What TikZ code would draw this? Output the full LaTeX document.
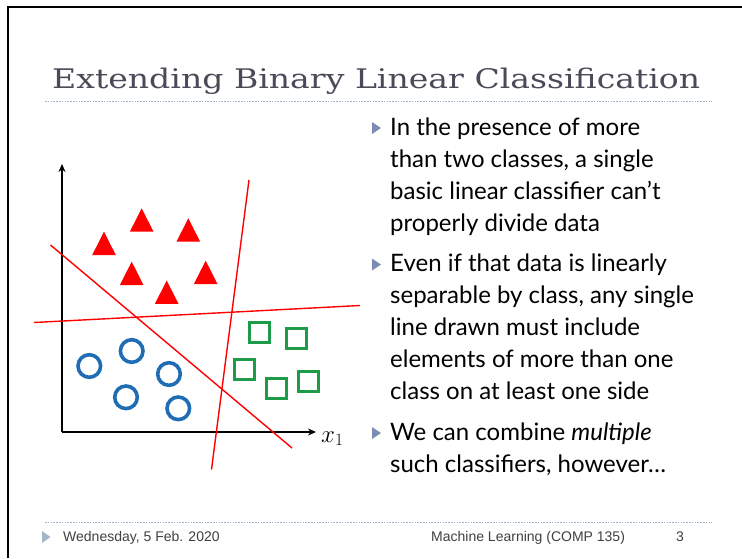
\documentclass[tikz,border=0pt]{standalone}
\usepackage{fontspec}
\usepackage{graphicx}
\setmainfont{Liberation Serif}
\newfontfamily\titlefont{DejaVu Serif}
\newfontfamily\bodyfont{Lato}
\newfontfamily\footfont{Liberation Sans}
\usetikzlibrary{arrows.meta}
\definecolor{titlegray}{HTML}{4A4A58}
\definecolor{rulegray}{HTML}{9FB3C8}
\definecolor{bulletblue}{HTML}{7B8DB0}
\definecolor{footblue}{HTML}{A3B6CC}
\definecolor{circblue}{HTML}{1F6DB4}
\definecolor{sqgreen}{HTML}{1E9B48}
\definecolor{foottext}{HTML}{404040}
\tikzset{
  frame/.style={line width=2.6pt, black},
  sep/.style={rulegray, line width=0.8pt, dash pattern=on 1.6pt off 1.2pt},
  axis/.style={line width=1.8pt, -{Stealth[length=8pt,width=7pt]}},
  divider/.style={red, line width=1.4pt},
  tri/.style={fill=red, draw=none},
  circ/.style={draw=circblue, line width=3.6pt},
  sq/.style={draw=sqgreen, line width=3pt},
  bodyline/.style={anchor=base west, inner sep=0pt, font=\bodyfont\fontsize{24}{28}\selectfont, text=black},
  footline/.style={anchor=base west, inner sep=0pt, font=\footfont\fontsize{14}{16}\selectfont, text=foottext},
  bullet/.style={fill=bulletblue, draw=none},
}
\begin{document}
\begin{tikzpicture}[x=1pt,y=-1pt]
\useasboundingbox (0,0) rectangle (742,558);
\fill[white] (0,0) rectangle (742,558);

% slide frame (top and left edges)
\draw[frame] (8,558) -- (8,7) -- (742,7);

% title and separator
\node[anchor=base west, inner sep=0pt, text=titlegray,
      font=\titlefont\fontsize{27}{30}\selectfont] (title) at (52,88)
      {\resizebox{648pt}{20.5pt}{Extending Binary Linear Classification}};
\draw[sep] (45,101) -- (712,101);

% axes
\coordinate (origin) at (62,432);
\coordinate (ytip) at (62,164);
\coordinate (xtip) at (316,432);
\draw[axis] (origin) -- (ytip);
\draw[axis] (origin) -- (xtip);
\node[anchor=base west, inner sep=0pt, font=\fontsize{25}{27}\selectfont] (xlabel) at (321,442) {$x_1$};

% three linear separators
\coordinate (a1) at (50.5,245);
\coordinate (a2) at (292,448);
\coordinate (b1) at (34,322.5);
\coordinate (b2) at (360,305.5);
\coordinate (c1) at (249,180);
\coordinate (c2) at (211.5,469.5);
\draw[divider] (a1) -- (a2);
\draw[divider] (b1) -- (b2);
\draw[divider] (c1) -- (c2);

% class 1: triangles
\foreach \x/\y [count=\i] in {141.7/208.3, 188.3/218.3, 104/231.7, 131.7/261.7, 205.7/260.7, 166.7/280.5}
  \fill[tri] (\x,\y) -- ++(-11.8,23.3) -- ++(23.6,0) -- cycle;

% class 2: circles
\foreach \x/\y [count=\i] in {89.3/366, 131.7/351, 169/374, 126/397.3, 178.3/408.3}
  \draw[circ] (\x,\y) circle (11.3pt);

% class 3: squares
\foreach \x/\y [count=\i] in {259/332.3, 296.7/338.3, 244/369, 276.7/388.3, 308.3/381}
  \draw[sq] (\x-10,\y-10) rectangle (\x+10,\y+10);

% bullet markers
\foreach \y in {128, 264.5, 433}
  \fill[bullet] (372,\y-6) -- (381,\y) -- (372,\y+6) -- cycle;

% bullet text
\node[bodyline] (l1) at (390,135) {In the presence of more};
\node[bodyline] (l2) at (390,167) {than two classes, a single};
\node[bodyline] (l3) at (390,199) {basic linear classifier can’t};
\node[bodyline] (l4) at (390,231) {properly divide data};
\node[bodyline] (l5) at (390,271.5) {Even if that data is linearly};
\node[bodyline] (l6) at (390,303.5) {separable by class, any single};
\node[bodyline] (l7) at (390,335.5) {line drawn must include};
\node[bodyline] (l8) at (390,367.5) {elements of more than one};
\node[bodyline] (l9) at (390,399.5) {class on at least one side};
\node[bodyline] (l10) at (390,440) {We can combine \textit{multiple}};
\node[bodyline] (l11) at (390,472) {such classifiers, however…};

% footer
\draw[sep] (45,522) -- (712,522);
\fill[footblue] (42,531) -- (50.5,537) -- (42,543) -- cycle;
\node[footline] (date) at (63,541.5) {Wednesday, 5 Feb. 2020};
\node[footline] (course) at (431,541.5) {Machine Learning (COMP 135)};
\node[footline] (page) at (676,541.5) {3};
\end{tikzpicture}
\end{document}
